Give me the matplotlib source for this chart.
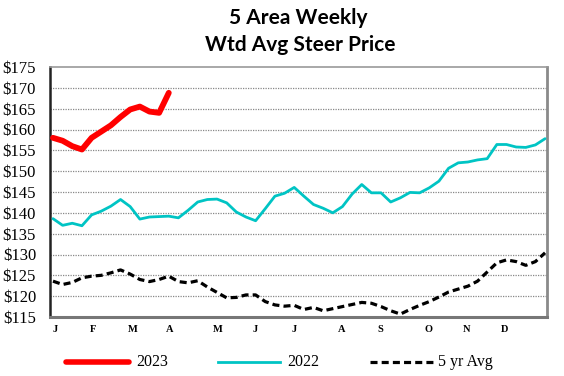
import matplotlib
matplotlib.use("Agg")
import matplotlib.pyplot as plt
import numpy as np

# Data (weekly, $/cwt)
y2023 = [158.0, 157.3, 156.0, 155.2, 158.0, 159.5, 161.0, 163.0, 164.8, 165.5,
         164.3, 164.0, 168.8]
y2022 = [138.6, 137.0, 137.5, 136.9, 139.5, 140.4, 141.6, 143.2, 141.5, 138.5,
         139.0, 139.1, 139.2, 138.8, 140.6, 142.6, 143.2, 143.3, 142.4, 140.2,
         139.0, 138.1, 141.0, 144.0, 144.7, 146.1, 144.0, 142.0, 141.1, 140.0,
         141.5, 144.5, 146.8, 144.8, 144.8, 142.6, 143.6, 144.9, 144.8, 146.0,
         147.6, 150.7, 152.0, 152.2, 152.7, 153.0, 156.4, 156.4, 155.8, 155.7,
         156.3, 157.8]
avg5 = [123.6, 122.8, 123.3, 124.4, 124.8, 125.0, 125.6, 126.3, 125.3, 124.0,
        123.5, 124.0, 124.8, 123.5, 123.2, 123.7, 122.2, 120.9, 119.6, 119.7,
        120.3, 120.3, 118.7, 117.9, 117.6, 117.8, 116.8, 117.3, 116.5, 117.0,
        117.5, 118.0, 118.5, 118.3, 117.5, 116.5, 115.7, 116.8, 117.8, 118.7,
        119.8, 121.0, 121.7, 122.4, 123.6, 125.8, 128.0, 128.7, 128.3, 127.4,
        128.3, 130.4]
month_labels = ["J", "F", "M", "A", "M", "J", "J", "A", "S", "O", "N", "D"]
month_pos = [0.2, 4.1, 8.3, 12.1, 17.1, 21.0, 25.0, 29.9, 33.9, 38.9, 42.9, 46.8]
y_ticks = [115, 120, 125, 130, 135, 140, 145, 150, 155, 160, 165, 170, 175]

fig = plt.figure(figsize=(5.64, 3.76), dpi=100)
ax = fig.add_axes([50/564, 1-317/376, 497/564, 250/376])

serif = ["Liberation Serif", "DejaVu Serif"]

ax.plot(range(len(y2022)), y2022, color="#00C4C4", lw=2.0, solid_joinstyle="round",
        solid_capstyle="round", zorder=3)
ax.plot(range(len(avg5)), avg5, color="black", lw=2.3, ls=(0, (2.2, 1.3)), zorder=3)
ax.plot(range(len(y2023)), y2023, color="#FF0000", lw=4.2, solid_joinstyle="round",
        solid_capstyle="round", zorder=4)

ax.set_xlim(-0.31, 51.2)
ax.set_ylim(115, 175)
ax.set_yticks(y_ticks)
ax.set_yticklabels([f"${v}" for v in y_ticks], fontfamily=serif, fontsize=12)
ax.set_xticks(month_pos)
ax.set_xticklabels(month_labels, fontfamily=serif, fontsize=7.5, fontweight="bold")
ax.tick_params(axis="both", length=0)
ax.tick_params(axis="y", pad=10)
ax.tick_params(axis="x", pad=6)

for v in y_ticks[1:-1]:
    ax.axhline(v, color="#888888", lw=0.9, ls=(0, (1, 1)), zorder=1)

ax.spines["left"].set_color("#222222")
ax.spines["left"].set_linewidth(1.8)
ax.spines["bottom"].set_color("#777777")
ax.spines["bottom"].set_linewidth(2.2)
ax.spines["right"].set_color("#8a8a8a")
ax.spines["right"].set_linewidth(2.0)
ax.spines["top"].set_color("#999999")
ax.spines["top"].set_linewidth(1.2)

fig.text(298/564, 1-18/376, "5 Area Weekly", ha="center", va="center",
         fontfamily=["Lato", "DejaVu Sans"], fontweight="bold", fontsize=15)
fig.text(300/564, 1-45/376, "Wtd Avg Steer Price", ha="center", va="center",
         fontfamily=["Lato", "DejaVu Sans"], fontweight="bold", fontsize=15)

# Legend drawn in figure coords
ly = 1 - 362/376
fig.add_artist(plt.Line2D([66/564, 129/564], [ly, ly], color="#FF0000", lw=4.0,
                          solid_capstyle="round"))
fig.text(136/564, ly, "2023", fontfamily=serif, fontsize=11.5, va="center")
fig.add_artist(plt.Line2D([218/564, 280/564], [ly, ly], color="#00C4C4", lw=2.0))
fig.text(287/564, ly, "2022", fontfamily=serif, fontsize=11.5, va="center")
fig.add_artist(plt.Line2D([370/564, 433/564], [ly, ly], color="black", lw=2.3,
                          ls=(0, (2.2, 1.3))))
fig.text(438/564, ly, "5 yr Avg", fontfamily=serif, fontsize=11.5, va="center")

fig.savefig("out.png", dpi=100)
